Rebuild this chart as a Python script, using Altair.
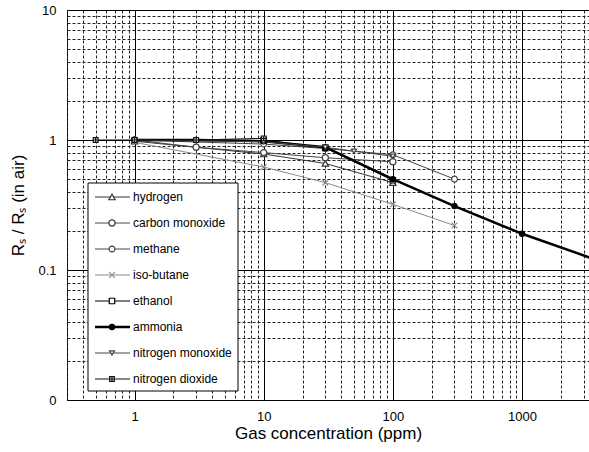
import altair as alt
import pandas as pd

# ---- data ----
series = ["hydrogen", "carbon monoxide", "methane", "iso-butane",
          "ethanol", "ammonia", "nitrogen monoxide", "nitrogen dioxide"]

hydrogen_x = [1, 10, 30, 100]
hydrogen_y = [0.98, 0.78, 0.66, 0.47]
co_x = [1, 3, 10, 30, 100]
co_y = [1.0, 0.88, 0.80, 0.73, 0.68]
methane_x = [1, 10, 30, 100, 300]
methane_y = [1.0, 0.93, 0.86, 0.77, 0.50]
isobutane_x = [1, 10, 30, 100, 300]
isobutane_y = [0.96, 0.62, 0.47, 0.32, 0.22]
ethanol_x = [10, 30, 100]
ethanol_y = [1.0, 0.87, 0.49]
ammonia_x = [1, 3, 10, 30, 100, 300, 1000, 10000]
ammonia_y = [1.0, 1.0, 0.98, 0.88, 0.50, 0.31, 0.19, 0.085]
no_x = [1, 10, 30, 50, 100]
no_y = [1.0, 0.97, 0.88, 0.82, 0.75]
no2_x = [0.5, 1, 3, 10]
no2_y = [1.0, 1.0, 1.0, 1.03]

xs = [hydrogen_x, co_x, methane_x, isobutane_x, ethanol_x, ammonia_x, no_x, no2_x]
ys = [hydrogen_y, co_y, methane_y, isobutane_y, ethanol_y, ammonia_y, no_y, no2_y]

colors = ["#333333", "#444444", "#444444", "#8a8a8a", "#000000", "#000000", "#444444", "#111111"]
fills = ["white", "white", "white", "white", "white", "black", "white", "white"]
shapes = ["triangle-up", "circle", "circle", "M-1,-1L1,1M-1,1L1,-1", "square",
          "circle", "triangle-down", "M-1,-1H1V1H-1ZM0,-1V1M-1,0H1"]
sizes = [40, 22, 45, 40, 50, 45, 40, 55]

x_ticks = [0.3, 0.4, 0.5, 0.6, 0.7, 0.8, 0.9] + [m * d for d in [1, 10, 100] for m in range(1, 10)] + [1000, 2000, 3000]
y_ticks = [m * d for d in [0.01, 0.1, 1] for m in range(1, 10)] + [10]

rows = []
for s, xx, yy in zip(series, xs, ys):
    for a, b in zip(xx, yy):
        rows.append({"series": s, "x": a, "y": b})
df = pd.DataFrame(rows)

leg = pd.DataFrame({"series": series, "rank": list(range(len(series)))})

font = "Liberation Sans"

color_scale = alt.Scale(domain=series, range=colors)
fill_scale = alt.Scale(domain=series, range=fills)
shape_scale = alt.Scale(domain=series, range=shapes)
size_scale = alt.Scale(domain=series, range=sizes)
thick = alt.condition(alt.datum.series == "ammonia", alt.value(2.5), alt.value(1))

xscale = alt.Scale(type="log", domain=[0.3, 3300], nice=False)
yscale = alt.Scale(type="log", domain=[0.01, 10], nice=False)

grid_dash_x = {"condition": {"test": "indexof([1,10,100,1000], datum.value) >= 0", "value": []}, "value": [3, 2]}
grid_dash_y = {"condition": {"test": "indexof([0.01,0.1,1,10], datum.value) >= 0", "value": []}, "value": [3, 2]}
grid_col_x = {"condition": {"test": "indexof([1,10,100,1000], datum.value) >= 0", "value": "#000000"}, "value": "#222222"}
grid_col_y = {"condition": {"test": "indexof([0.01,0.1,1,10], datum.value) >= 0", "value": "#000000"}, "value": "#222222"}

x_axis = alt.Axis(values=x_ticks, title="Gas concentration (ppm)", grid=True,
                  gridDash=grid_dash_x, gridColor=grid_col_x, gridOpacity=1, gridWidth=1,
                  ticks=False, domain=False, labelOverlap=False, labelPadding=10,
                  labelExpr="indexof([1,10,100,1000], datum.value) >= 0 ? format(datum.value, 'd') : ''",
                  labelFont=font, labelFontSize=13, labelColor="#000",
                  titleFont=font, titleFontSize=17, titleFontWeight="normal", titleColor="#000",
                  titlePadding=2)
y_axis = alt.Axis(values=y_ticks, title="Rₛ / Rₛ (in air)", grid=True,
                  gridDash=grid_dash_y, gridColor=grid_col_y, gridOpacity=1, gridWidth=1,
                  ticks=False, domain=False, labelOverlap=False, labelPadding=11,
                  labelExpr="datum.value == 0.01 ? '0' : (datum.value == 0.1 ? '0.1' : (datum.value == 1 ? '1' : (datum.value == 10 ? '10' : '')))",
                  labelFont=font, labelFontSize=13, labelColor="#000",
                  titleFont=font, titleFontSize=17, titleFontWeight="normal", titleColor="#000",
                  titlePadding=10)

base = alt.Chart(df)
lines = base.mark_line(clip=True).encode(
    x=alt.X("x:Q", scale=xscale, axis=x_axis),
    y=alt.Y("y:Q", scale=yscale, axis=y_axis),
    detail="series:N",
    order="x:Q",
    stroke=alt.Stroke("series:N", scale=color_scale, legend=None),
    strokeWidth=thick,
)
points = base.mark_point(filled=True, clip=True, strokeWidth=1.2, opacity=1).encode(
    x=alt.X("x:Q", scale=xscale),
    y=alt.Y("y:Q", scale=yscale),
    shape=alt.Shape("series:N", scale=shape_scale, legend=None),
    fill=alt.Fill("series:N", scale=fill_scale, legend=None),
    stroke=alt.Stroke("series:N", scale=color_scale, legend=None),
    size=alt.Size("series:N", scale=size_scale, legend=None),
)
main = alt.layer(lines, points)

ly = alt.Y("rank:Q", scale=alt.Scale(domain=[0, 7], range=[187, 369]), axis=None)
box = alt.Chart(pd.DataFrame({"k": [0]})).mark_rect(fill="white", stroke="black", strokeWidth=1).encode(
    x=alt.value(21), x2=alt.value(171), y=alt.value(173), y2=alt.value(381))
lrule = alt.Chart(leg).mark_rule().encode(
    x=alt.value(28), x2=alt.value(63), y=ly,
    stroke=alt.Stroke("series:N", scale=color_scale, legend=None),
    strokeWidth=thick)
lpt = alt.Chart(leg).mark_point(filled=True, strokeWidth=1.2, opacity=1).encode(
    x=alt.value(45), y=ly,
    shape=alt.Shape("series:N", scale=shape_scale, legend=None),
    fill=alt.Fill("series:N", scale=fill_scale, legend=None),
    stroke=alt.Stroke("series:N", scale=color_scale, legend=None),
    size=alt.Size("series:N", scale=size_scale, legend=None))
ltext = alt.Chart(leg).mark_text(align="left", baseline="middle", font=font, fontSize=12, color="black").encode(
    x=alt.value(66), y=ly, text="series:N")
legend = alt.layer(box, lrule, lpt, ltext)

chart = alt.layer(main, legend).resolve_scale(y="independent").properties(
    width=522, height=390,
    autosize=alt.AutoSizeParams(type="none"),
    padding={"left": 67, "top": 10, "right": 0, "bottom": 52},
    background="white",
).configure_view(stroke="black", strokeWidth=1)

chart.save("out.html", embed_options={"renderer": "svg", "actions": False})
